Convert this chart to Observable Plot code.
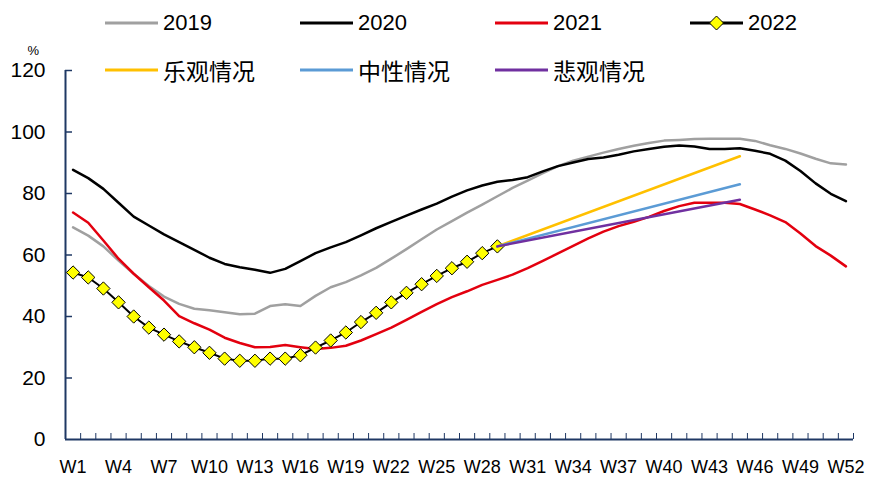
<!DOCTYPE html>
<html>
<head>
<meta charset="utf-8">
<script src="https://cdn.jsdelivr.net/npm/d3@7"></script>
<script src="https://cdn.jsdelivr.net/npm/@observablehq/plot@0.6"></script>
<style>
  body { margin: 0; background: #fff; }
  #chart { position: relative; width: 869px; height: 477px; font-family: "Liberation Sans", Arial, "Noto Sans CJK SC", sans-serif; }
  #chart > svg { position: absolute; left: 0; top: 0; }
  .item { position: absolute; display: flex; align-items: center; height: 30px; white-space: nowrap; }
  .item svg { display: block; margin-right: 5px; }
  .item span { font-size: 22px; color: #000; }
  .item span.zh { font-family: "Noto Sans CJK SC", sans-serif; font-size: 23px; }
</style>
</head>
<body>
<div id="chart"></div>
<script>
// Weekly series, week 1 .. week 52 (%)
const weeks = d3.range(1, 53);

const y2019 = [69.0, 66.3, 62.8, 58.2, 53.9, 49.9, 46.5, 44.1, 42.5, 42.0, 41.4, 40.7, 40.9,
  43.4, 44.0, 43.4, 46.7, 49.5, 51.2, 53.4, 55.8, 58.8, 61.9, 65.1, 68.3, 71.0,
  73.8, 76.4, 79.1, 81.8, 84.2, 86.6, 88.9, 90.7, 92.0, 93.3, 94.5, 95.5, 96.4,
  97.2, 97.4, 97.7, 97.8, 97.8, 97.8, 97.1, 95.7, 94.5, 93.0, 91.3, 89.8, 89.4];

const y2020 = [87.7, 85.0, 81.5, 77.0, 72.5, 69.6, 66.7, 64.2, 61.7, 59.1, 57.1, 56.0, 55.2,
  54.2, 55.5, 58.0, 60.6, 62.5, 64.2, 66.4, 68.7, 70.8, 72.8, 74.8, 76.7, 79.0,
  81.0, 82.6, 83.8, 84.4, 85.3, 87.2, 88.9, 90.1, 91.2, 91.7, 92.6, 93.7, 94.5,
  95.2, 95.6, 95.3, 94.5, 94.5, 94.7, 93.9, 92.9, 90.7, 87.3, 83.3, 79.9, 77.5];

const y2021 = [73.8, 70.5, 64.7, 58.8, 53.9, 49.5, 45.2, 40.1, 37.8, 35.7, 33.1, 31.4, 30.0,
  30.1, 30.7, 30.0, 29.4, 29.8, 30.5, 32.2, 34.3, 36.4, 38.9, 41.5, 44.0, 46.3,
  48.2, 50.3, 51.9, 53.6, 55.7, 58.1, 60.5, 63.0, 65.4, 67.6, 69.4, 70.8, 72.4,
  74.3, 75.9, 77.0, 77.0, 77.0, 76.6, 74.8, 72.9, 70.7, 67.0, 62.9, 59.8, 56.3];

// 2022 runs through week 29
const y2022 = [54.3, 52.7, 49.1, 44.6, 40.0, 36.4, 34.1, 31.9, 30.0, 28.2, 26.3, 25.6, 25.6,
  26.3, 26.3, 27.4, 29.9, 32.2, 34.8, 38.2, 41.2, 44.6, 47.7, 50.5, 53.2, 55.7,
  57.8, 60.6, 62.8];

// Scenario projections from week 29 to week 45
const scenarioWeeks = [29, 45];
const optimistic = [62.8, 92.1];
const neutral = [62.8, 83.0];
const pessimistic = [62.8, 78.0];

const yTicks = [0, 20, 40, 60, 80, 100, 120];
const xTickLabels = ["W1", "W4", "W7", "W10", "W13", "W16", "W19", "W22", "W25", "W28",
  "W31", "W34", "W37", "W40", "W43", "W46", "W49", "W52"];

const colors = {
  "2019": "#A0A0A0", "2020": "#000000", "2021": "#E3000F", "2022": "#000000",
  "乐观情况": "#FFC000", "中性情况": "#5B9BD5", "悲观情况": "#7030A0"
};

const W = 869, H = 477;
const mL = 65, mR = 16, mT = 70, mB = 38;
const plotW = W - mL - mR, plotH = H - mT - mB;
const navy = "#1F3864";

const toRows = (xs, ys) => xs.map((x, i) => ({x, y: ys[i]}));
const lineOpts = (name, w = 2.5) => ({x: "x", y: "y", stroke: colors[name], strokeWidth: w, strokeLinejoin: "round", strokeLinecap: "round"});

const chart = Plot.plot({
  width: W, height: H,
  marginLeft: mL, marginRight: mR, marginTop: mT, marginBottom: mB,
  style: {background: "transparent", fontFamily: "Liberation Sans, Arial, sans-serif", color: "#000"},
  x: {domain: [0.5, 52.5]},
  y: {domain: [0, 120]},
  marks: [
    Plot.axisY({ticks: yTicks, tickSize: 0, tickPadding: 20, fontSize: 21, label: null, tickFormat: d => String(d), color: "#000"}),
    Plot.axisX({ticks: xTickLabels.map(s => +s.slice(1)), tickSize: 0, tickPadding: 21, fontSize: 18,
      tickFormat: w => xTickLabels.find(s => +s.slice(1) === w), label: null, color: "#000"}),
    Plot.text(["%"], {frameAnchor: "top-left", dx: -38, dy: -25, fontSize: 13, fill: "#000"}),
    // inward tick marks
    Plot.tickY(yTicks.filter(d => d > 0), {y: d => d, stroke: navy, strokeWidth: 1.5, insetRight: plotW - 7}),
    Plot.tickX(d3.range(0, 53).map(i => i + 0.5), {x: d => d, stroke: navy, strokeWidth: 1, insetTop: plotH - 6}),
    Plot.ruleX([0.5], {stroke: navy, strokeWidth: 2}),
    Plot.ruleY([0], {stroke: navy, strokeWidth: 2}),
    // yearly series
    Plot.line(toRows(weeks, y2019), lineOpts("2019")),
    Plot.line(toRows(weeks, y2020), lineOpts("2020")),
    Plot.line(toRows(weeks, y2021), lineOpts("2021")),
    Plot.line(toRows(weeks.slice(0, y2022.length), y2022), lineOpts("2022", 2)),
    Plot.dot(toRows(weeks.slice(0, y2022.length), y2022), {x: "x", y: "y", symbol: "diamond2", r: 6, fill: "#FFFF00", stroke: "#000", strokeWidth: 1}),
    // scenarios
    Plot.line(toRows(scenarioWeeks, optimistic), lineOpts("乐观情况")),
    Plot.line(toRows(scenarioWeeks, neutral), lineOpts("中性情况")),
    Plot.line(toRows(scenarioWeeks, pessimistic), lineOpts("悲观情况"))
  ]
});

const root = document.getElementById("chart");
root.appendChild(chart);

// legend: two rows of up to four entries
const legendNames = ["2019", "2020", "2021", "2022", "乐观情况", "中性情况", "悲观情况"];
const rowCenters = [23, 70];
legendNames.forEach((name, i) => {
  const item = document.createElement("div");
  item.className = "item";
  item.style.left = (105 + (i % 4) * 195) + "px";
  item.style.top = (rowCenters[Math.floor(i / 4)] - 15) + "px";
  const svg = d3.create("svg").attr("width", 53).attr("height", 16);
  svg.append("line").attr("x1", 0).attr("x2", 53).attr("y1", 8).attr("y2", 8)
    .attr("stroke", colors[name]).attr("stroke-width", 3);
  if (name === "2022") {
    svg.append("path").attr("d", "M26.5,1L33.5,8L26.5,15L19.5,8Z")
      .attr("fill", "#FFFF00").attr("stroke", "#000").attr("stroke-width", 1);
  }
  item.appendChild(svg.node());
  const label = document.createElement("span");
  label.textContent = name;
  if (/[^\x00-\x7F]/.test(name)) label.className = "zh";
  item.appendChild(label);
  root.appendChild(item);
});
</script>
</body>
</html>
